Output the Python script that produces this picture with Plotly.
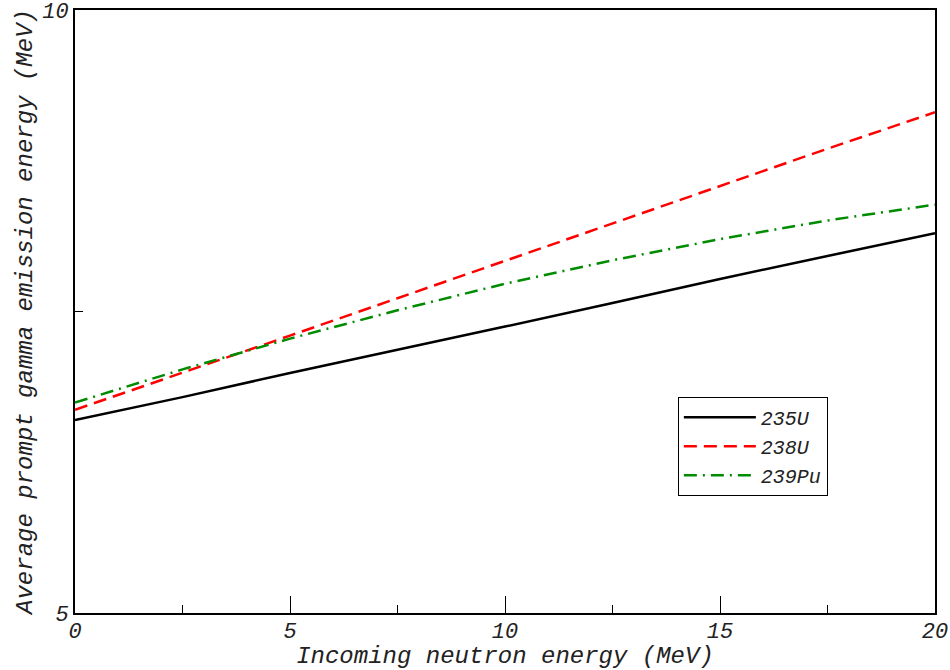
import plotly.graph_objects as go

energy = [0, 2.5, 5, 7.5, 10, 12.5, 15, 17.5, 20]
u235 = [6.60, 6.79, 6.99, 7.18, 7.375, 7.57, 7.77, 7.96, 8.15]
u238 = [6.685, 6.99, 7.30, 7.61, 7.92, 8.23, 8.54, 8.85, 9.152]
pu239 = [6.745, 7.02, 7.275, 7.51, 7.73, 7.925, 8.10, 8.255, 8.386]

x_ticks = [0, 5, 10, 15, 20]
y_ticks = [5, 10]

FONT = "Liberation Mono"

fig = go.Figure()
fig.add_trace(go.Scatter(x=energy, y=u235, mode="lines", name="235U",
                         line=dict(color="black", width=2.5, dash="solid")))
fig.add_trace(go.Scatter(x=energy, y=u238, mode="lines", name="238U",
                         line=dict(color="#ff0000", width=2.5, dash="13px,7px")))
fig.add_trace(go.Scatter(x=energy, y=pu239, mode="lines", name="239Pu",
                         line=dict(color="#008c00", width=2.5, dash="13px,6px,2px,6px")))

fig.update_layout(
    width=950, height=670,
    margin=dict(l=75, r=15, t=10, b=57),
    paper_bgcolor="white", plot_bgcolor="white",
    font=dict(family=FONT, size=21, color="#222"),
    showlegend=True,
    legend=dict(x=0.701, y=0.3585, xanchor="left", yanchor="top",
                bordercolor="black", borderwidth=1, bgcolor="white",
                font=dict(family=FONT, size=20, style="italic"),
                itemwidth=72, tracegroupgap=0),
)
fig.update_xaxes(
    range=[0, 20], tickvals=x_ticks, ticktext=[str(v) for v in x_ticks],
    ticks="inside", ticklen=17, tickwidth=1, tickcolor="black",
    minor=dict(dtick=2.5, ticks="inside", ticklen=8, tickcolor="black", tickwidth=1),
    showline=True, linecolor="black", linewidth=2, mirror=True,
    showgrid=False, zeroline=False, automargin=False, ticklabeloverflow="allow",
    ticklabelstandoff=-3,
    tickfont=dict(family=FONT, size=22, style="italic"),
    title=dict(text="Incoming neutron energy (MeV)", standoff=2,
               font=dict(family=FONT, size=24, style="italic")),
)
fig.update_yaxes(
    range=[5, 10], tickvals=y_ticks, ticktext=[str(v) for v in y_ticks],
    ticks="inside", ticklen=17, tickwidth=1, tickcolor="black",
    minor=dict(tickvals=[7.5], ticks="inside", ticklen=8, tickcolor="black", tickwidth=1),
    showline=True, linecolor="black", linewidth=2, mirror=True,
    showgrid=False, zeroline=False, automargin=False, ticklabeloverflow="allow",
    tickfont=dict(family=FONT, size=22, style="italic"),
    title=dict(text="Average prompt gamma emission energy (MeV)", standoff=3,
               font=dict(family=FONT, size=24, style="italic")),
)

fig.write_html("out.html", config={"displayModeBar": False},
               post_script="document.body.style.margin='0';document.body.style.padding='0';")
